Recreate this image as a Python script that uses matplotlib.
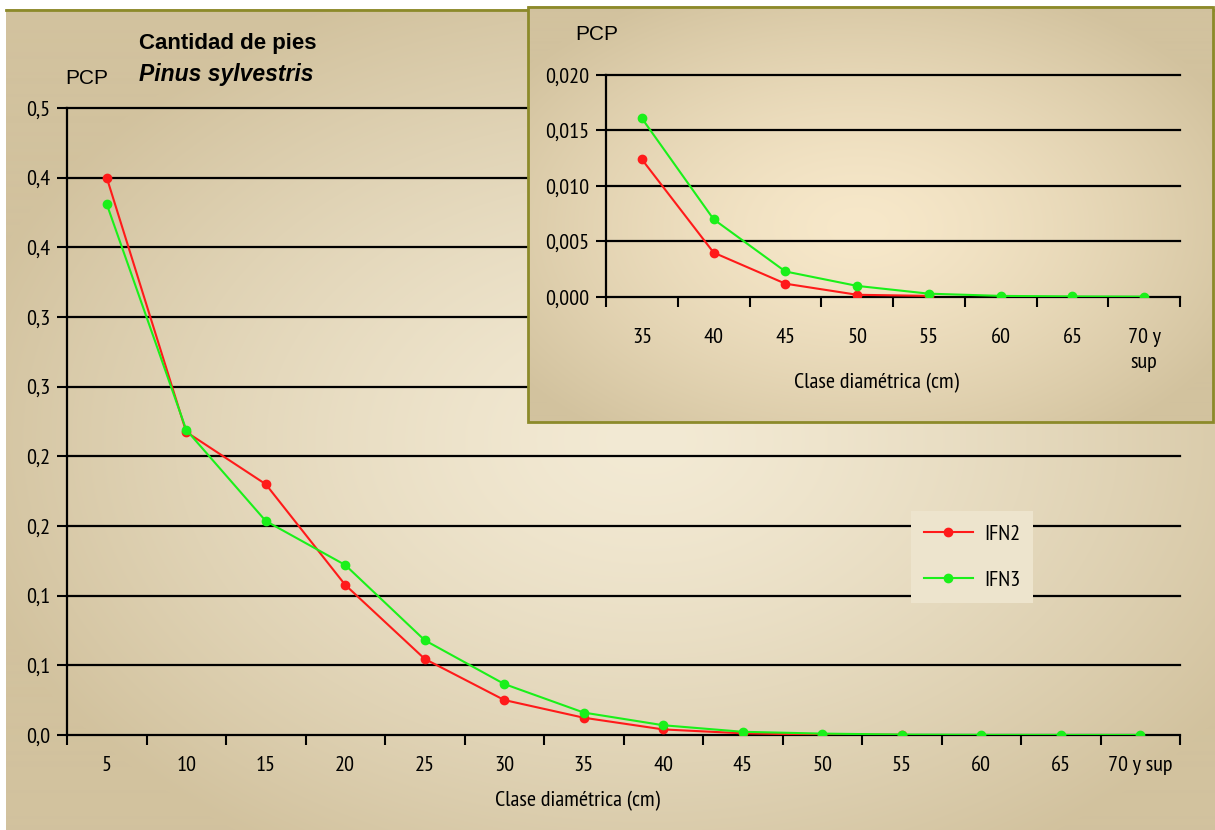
import numpy as np
import matplotlib
matplotlib.use("Agg")
import matplotlib.pyplot as plt
from matplotlib.patches import Rectangle

# ---------------- data ----------------
categories = ["5", "10", "15", "20", "25", "30", "35", "40", "45", "50", "55", "60", "65", "70 y sup"]
ifn2 = [0.400, 0.2175, 0.180, 0.1077, 0.0546, 0.0251, 0.0124, 0.0040, 0.0012, 0.0002, 0.0001]
ifn3 = [0.381, 0.219, 0.1536, 0.122, 0.068, 0.0366, 0.0161, 0.0070, 0.0023, 0.0010, 0.0003, 0.0001, 0.00005, 0.00003]
main_yticks = [0.0, 0.05, 0.10, 0.15, 0.20, 0.25, 0.30, 0.35, 0.40, 0.45]
main_ylabels = ["0,0", "0,1", "0,1", "0,2", "0,2", "0,3", "0,3", "0,4", "0,4", "0,5"]

inset_categories = ["35", "40", "45", "50", "55", "60", "65", "70 y\nsup"]
inset_start = 6  # index of "35" in the main categories
inset_yticks = [0.0, 0.005, 0.010, 0.015, 0.020]
inset_ylabels = ["0,000", "0,005", "0,010", "0,015", "0,020"]

RED = "#FF1A1A"
GREEN = "#1AF01A"
OLIVE = "#8C8A2A"

W, H = 1215, 830
NARROW = ["PT Sans Narrow", "DejaVu Sans"]
REG = ["Liberation Sans", "DejaVu Sans"]
plt.rcParams["font.family"] = NARROW
FS = 16

fig = plt.figure(figsize=(W / 100, H / 100), dpi=100)
fig.patch.set_facecolor("white")


def box(x0, y0, x1, y1):
    return [x0 / W, 1 - y1 / H, (x1 - x0) / W, (y1 - y0) / H]


def gradient(w, h, cx, cy, rx, ry, c_in, c_out, p=1.4):
    yy, xx = np.mgrid[0:h, 0:w]
    r = np.sqrt(((xx - cx) / rx) ** 2 + ((yy - cy) / ry) ** 2)
    t = np.clip(r, 0, 1) ** p
    c_in = np.array(c_in) / 255.0
    c_out = np.array(c_out) / 255.0
    return c_in[None, None, :] * (1 - t[..., None]) + c_out[None, None, :] * t[..., None]


# ---------------- background ----------------
bg = fig.add_axes([0, 0, 1, 1], zorder=0)
bg.set_xlim(0, W)
bg.set_ylim(H, 0)
bg.axis("off")
img = gradient(W - 6, H - 10, 640, 430, 700, 480, (243, 234, 212), (210, 194, 158))
bg.imshow(img, extent=(6, W, H, 10), aspect="auto", interpolation="bilinear")
bg.plot([6, W], [10, 10], color=OLIVE, lw=2)

# ---------------- main axes ----------------
ax = fig.add_axes(box(67, 108, 1180, 735), zorder=1)
ax.patch.set_alpha(0)
x = np.arange(len(categories))
ax.set_xlim(-0.5, len(categories) - 0.5)
ax.set_ylim(0, 0.45)
for yv in main_yticks[1:]:
    ax.axhline(yv, color="black", lw=1.6, zorder=1, clip_on=False)
ax.plot(x[:len(ifn2)], ifn2, color=RED, lw=1.5, marker="o", ms=6, zorder=3, label="IFN2")
ax.plot(x, ifn3, color=GREEN, lw=1.5, marker="o", ms=6, zorder=4, label="IFN3")
ax.set_yticks(main_yticks)
ax.set_yticklabels(main_ylabels, fontsize=FS)
ax.set_xticks(x)
ax.set_xticklabels(categories, fontsize=FS)
ax.set_xticks(np.arange(-0.5, len(categories)), minor=True)
ax.tick_params(axis="x", which="major", length=0, pad=15)
ax.tick_params(axis="x", which="minor", length=7, width=1.5, direction="out")
ax.tick_params(axis="y", length=7, width=1.5, pad=5)
for s in ["top", "right"]:
    ax.spines[s].set_visible(False)
for s in ["left", "bottom"]:
    ax.spines[s].set_linewidth(1.6)
ax.spines["bottom"].set_zorder(2)

leg = ax.legend(loc="center", bbox_to_anchor=((972 - 67) / 1113, (735 - 557) / 627),
                fontsize=FS, handlelength=2.2, labelspacing=1.2, frameon=True,
                facecolor="#EDE4CD", edgecolor="none", framealpha=1, fancybox=False,
                borderpad=0.6, handletextpad=0.5)

fig.text(577 / W, 1 - 801 / H, "Clase diamétrica (cm)", fontsize=FS, ha="center", va="center")
fig.text(65 / W, 1 - 78 / H, "PCP", fontsize=15, ha="left", va="center", family=REG)
fig.text(228 / W, 1 - 43 / H, "Cantidad de pies", fontsize=16, fontweight="bold", ha="center", va="center",
         family=REG)
fig.text(139 / W, 1 - 75 / H, "Pinus sylvestris", fontsize=16.5, fontweight="bold", style="italic",
         ha="left", va="center", family=REG)

# ---------------- inset background ----------------
ibg = fig.add_axes([0, 0, 1, 1], zorder=2)
ibg.set_xlim(0, W)
ibg.set_ylim(H, 0)
ibg.axis("off")
ibg.patch.set_alpha(0)
iimg = gradient(1213 - 528, 422 - 7, 330, 220, 420, 260, (247, 232, 202), (210, 194, 158))
ibg.imshow(iimg, extent=(528, 1213, 422, 7), aspect="auto", interpolation="bilinear")
ibg.add_patch(Rectangle((528, 7), 1213 - 528, 422 - 7, fill=False, edgecolor=OLIVE, lw=2))

# ---------------- inset axes ----------------
ia = fig.add_axes(box(606, 75, 1180, 297), zorder=3)
ia.patch.set_alpha(0)
xi = np.arange(len(inset_categories))
ia.set_xlim(-0.5, len(inset_categories) - 0.5)
ia.set_ylim(0, 0.020)
for yv in inset_yticks[1:]:
    ia.axhline(yv, color="black", lw=1.6, zorder=1, clip_on=False)
r_in = ifn2[inset_start:]
g_in = ifn3[inset_start:]
ia.plot(xi[:len(r_in)], r_in, color=RED, lw=1.5, marker="o", ms=6, zorder=3)
ia.plot(xi, g_in, color=GREEN, lw=1.5, marker="o", ms=6, zorder=4)
ia.set_yticks(inset_yticks)
ia.set_yticklabels(inset_ylabels, fontsize=FS)
ia.set_xticks(xi)
ia.set_xticklabels(inset_categories, fontsize=FS, va="top", linespacing=1.45)
ia.set_xticks(np.arange(-0.5, len(inset_categories)), minor=True)
ia.tick_params(axis="x", which="major", length=0, pad=22)
ia.tick_params(axis="x", which="minor", length=7, width=1.5, direction="out")
ia.tick_params(axis="y", length=7, width=1.5, pad=5)
for s in ["top", "right"]:
    ia.spines[s].set_visible(False)
for s in ["left", "bottom"]:
    ia.spines[s].set_linewidth(1.6)

fig.text(876 / W, 1 - 383 / H, "Clase diamétrica (cm)", fontsize=FS, ha="center", va="center", zorder=5)
fig.text(575 / W, 1 - 34 / H, "PCP", fontsize=15, ha="left", va="center", zorder=5, family=REG)

fig.savefig("out.png", dpi=100)
